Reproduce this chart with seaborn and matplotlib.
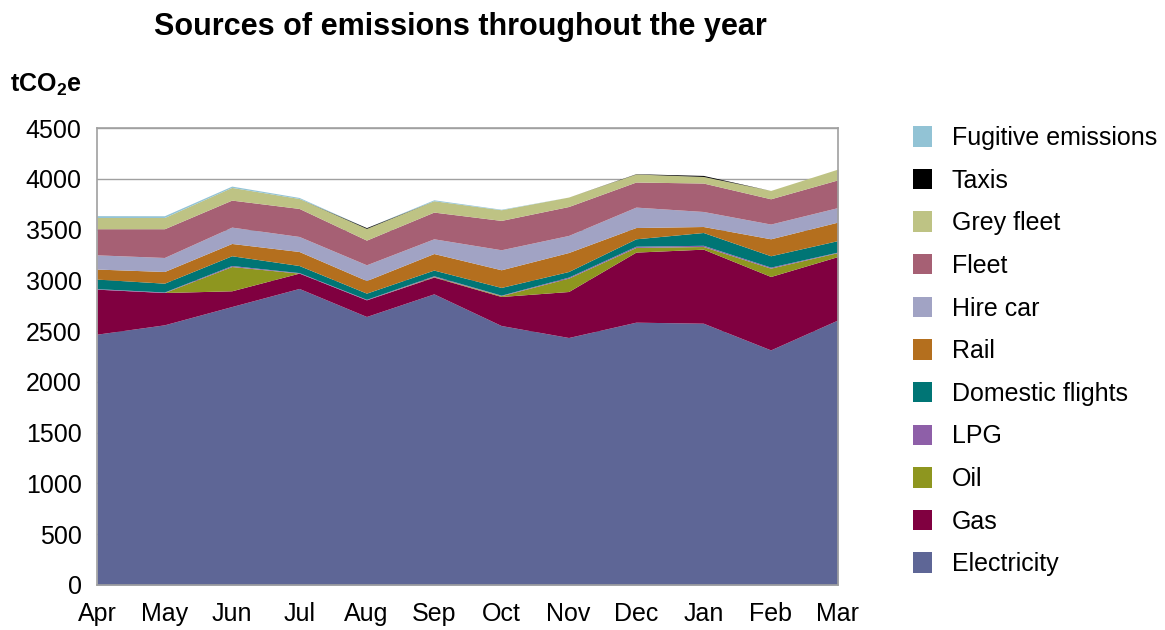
import matplotlib
matplotlib.use("Agg")
import matplotlib.pyplot as plt
import seaborn as sns
import numpy as np
from matplotlib.patches import Patch

months = ["Apr", "May", "Jun", "Jul", "Aug", "Sep", "Oct", "Nov", "Dec", "Jan", "Feb", "Mar"]

electricity = [2470, 2562, 2742, 2920, 2644, 2867, 2555, 2437, 2588, 2578, 2315, 2611]
gas = [443, 318, 155, 151, 164, 165, 286, 453, 690, 729, 723, 624]
oil = [0, 0, 239, 0, 0, 5, 8, 132, 46, 26, 82, 39]
lpg = [5, 5, 10, 5, 5, 8, 5, 10, 12, 12, 10, 5]
domestic_flights = [94, 87, 96, 70, 61, 56, 76, 55, 73, 126, 112, 113]
rail = [99, 115, 121, 138, 124, 163, 174, 187, 111, 59, 167, 182]
hire_car = [140, 138, 161, 148, 155, 145, 197, 168, 201, 148, 145, 143]
fleet = [257, 283, 266, 276, 243, 263, 289, 285, 247, 280, 249, 273]
grey_fleet = [111, 111, 125, 98, 115, 112, 105, 93, 79, 65, 82, 106]
taxis = [0, 0, 0, 0, 8, 0, 0, 0, 3, 10, 0, 0]
fugitive = [18, 17, 13, 10, 0, 9, 5, 0, 0, 0, 0, 0]

series_names = ["Electricity", "Gas", "Oil", "LPG", "Domestic flights", "Rail",
                "Hire car", "Fleet", "Grey fleet", "Taxis", "Fugitive emissions"]
series_values = [electricity, gas, oil, lpg, domestic_flights, rail,
                 hire_car, fleet, grey_fleet, taxis, fugitive]
colors = ["#5E6696", "#800040", "#8E961F", "#8E5FA8", "#007575", "#B46F1E",
          "#A1A3C4", "#A66074", "#BEC384", "#000000", "#92C3D5"]

sns.set_style("white")
plt.rcParams['font.family'] = ['Liberation Sans', 'DejaVu Sans']
plt.rcParams['mathtext.fontset'] = 'custom'
plt.rcParams['mathtext.rm'] = 'Liberation Sans'
plt.rcParams['mathtext.bf'] = 'Liberation Sans:bold'
plt.rcParams['text.color'] = 'black'
plt.rcParams['axes.labelcolor'] = 'black'

fig = plt.figure(figsize=(11.65, 6.3), dpi=100)
ax = fig.add_axes([97/1165, 1 - 585/630, (838-97)/1165, (585-128)/630])

x = np.arange(len(months))
ax.stackplot(x, *series_values, colors=colors, linewidth=0, zorder=2)

ax.set_xlim(0, len(months) - 1)
ax.set_ylim(0, 4500)
ax.set_yticks(np.arange(0, 4501, 500))
ax.set_xticks(x)
ax.set_xticklabels(months)
ax.yaxis.grid(True, color="#A0A0A0", linewidth=1, zorder=0)
ax.set_axisbelow(True)
for s in ax.spines.values():
    s.set_color("#A0A0A0")
    s.set_linewidth(1.2)
ax.tick_params(axis="both", which="major", direction="out", length=5, width=1,
               color="#808080", labelsize=18, labelcolor="black")
ax.tick_params(axis="y", pad=6)
ax.tick_params(axis="x", pad=7)

fig.text(460/1165, 1 - 27/630, "Sources of emissions throughout the year",
         ha="center", va="center", fontsize=22, fontweight="bold")
fig.text(10/1165, 1 - 85/630, r"tCO$_\mathbf{2}$e", ha="left", va="center",
         fontsize=18, fontweight="bold")

handles = [Patch(facecolor=c, edgecolor="none") for c in colors[::-1]]
labels = series_names[::-1]
fig.legend(handles, labels, loc="upper left", bbox_to_anchor=(903/1165, 1 - 116/630),
           frameon=False, fontsize=18, handlelength=0.76, handleheight=0.88,
           labelspacing=0.745, handletextpad=0.8, borderaxespad=0)

fig.savefig("out.png", dpi=100)
